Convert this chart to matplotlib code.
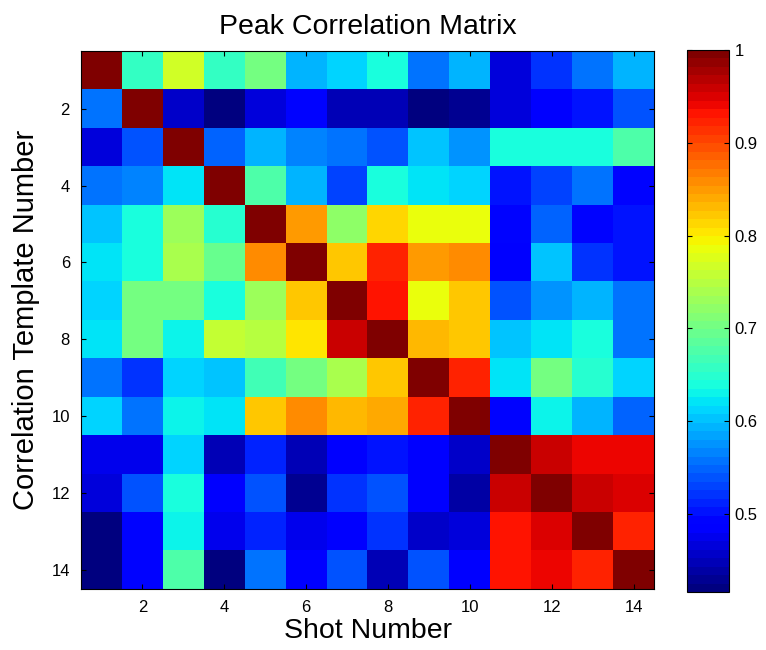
import numpy as np
import matplotlib
matplotlib.use("Agg")
import matplotlib.pyplot as plt

plt.rcParams['font.family'] = ['Liberation Sans', 'DejaVu Sans']

# peak correlation values, rows = correlation template, cols = shot number
row01 = [1.000, 0.660, 0.770, 0.660, 0.700, 0.590, 0.610, 0.640, 0.560, 0.590, 0.470, 0.520, 0.557, 0.590]
row02 = [0.560, 1.000, 0.460, 0.416, 0.470, 0.490, 0.450, 0.450, 0.418, 0.430, 0.470, 0.485, 0.500, 0.540]
row03 = [0.470, 0.540, 1.000, 0.545, 0.590, 0.570, 0.557, 0.540, 0.600, 0.575, 0.640, 0.640, 0.640, 0.680]
row04 = [0.560, 0.570, 0.620, 1.000, 0.675, 0.590, 0.530, 0.635, 0.620, 0.610, 0.500, 0.530, 0.557, 0.495]
row05 = [0.600, 0.635, 0.730, 0.645, 1.000, 0.850, 0.720, 0.815, 0.790, 0.790, 0.490, 0.545, 0.495, 0.500]
row06 = [0.625, 0.640, 0.740, 0.690, 0.860, 1.000, 0.820, 0.920, 0.850, 0.860, 0.487, 0.600, 0.525, 0.500]
row07 = [0.610, 0.700, 0.705, 0.637, 0.730, 0.820, 1.000, 0.935, 0.790, 0.820, 0.540, 0.575, 0.590, 0.560]
row08 = [0.625, 0.700, 0.632, 0.760, 0.745, 0.805, 0.960, 1.000, 0.835, 0.820, 0.600, 0.625, 0.640, 0.560]
row09 = [0.560, 0.525, 0.610, 0.600, 0.665, 0.705, 0.740, 0.820, 1.000, 0.920, 0.625, 0.700, 0.650, 0.610]
row10 = [0.610, 0.557, 0.632, 0.625, 0.820, 0.860, 0.830, 0.840, 0.925, 1.000, 0.495, 0.632, 0.590, 0.545]
row11 = [0.475, 0.475, 0.610, 0.450, 0.510, 0.450, 0.482, 0.505, 0.485, 0.460, 1.000, 0.958, 0.942, 0.942]
row12 = [0.470, 0.540, 0.640, 0.482, 0.540, 0.432, 0.525, 0.540, 0.482, 0.440, 0.958, 1.000, 0.958, 0.950]
row13 = [0.418, 0.495, 0.632, 0.475, 0.515, 0.475, 0.480, 0.520, 0.460, 0.470, 0.935, 0.950, 1.000, 0.922]
row14 = [0.425, 0.495, 0.675, 0.420, 0.557, 0.482, 0.540, 0.445, 0.540, 0.485, 0.935, 0.945, 0.925, 1.000]

corr = np.array([row01, row02, row03, row04, row05, row06, row07,
                 row08, row09, row10, row11, row12, row13, row14])
n = corr.shape[0]
tick_vals = [2, 4, 6, 8, 10, 12, 14]
cbar_ticks = [0.5, 0.6, 0.7, 0.8, 0.9, 1.0]
cbar_labels = ['0.5', '0.6', '0.7', '0.8', '0.9', '1']

fig = plt.figure(figsize=(7.66, 6.5), dpi=100)
ax = fig.add_axes([81 / 766, 1 - 589 / 650, 573 / 766, 538 / 650])

cmap = plt.get_cmap('jet', 64)
im = ax.imshow(corr, cmap=cmap, vmin=corr.min(), vmax=corr.max(),
               extent=[0.5, n + 0.5, n + 0.5, 0.5], aspect='auto',
               interpolation='nearest')

ax.set_xticks(tick_vals)
ax.set_yticks(tick_vals)
ax.tick_params(direction='in', top=True, right=True, length=3.5, width=0.8,
               labelsize=12, pad=8)
ax.set_xlabel('Shot Number', fontsize=20.5, labelpad=2)
ax.set_ylabel('Correlation Template Number', fontsize=21, labelpad=8)
ax.set_title('Peak Correlation Matrix', fontsize=20.5, pad=12)

cax = fig.add_axes([687 / 766, 1 - 592 / 650, 42 / 766, 542 / 650])
cb = fig.colorbar(im, cax=cax)
cb.set_ticks(cbar_ticks)
cb.set_ticklabels(cbar_labels)
cax.tick_params(direction='in', left=True, right=True, length=3.5, width=0.8,
                labelsize=12, pad=4)
cb.outline.set_linewidth(0.8)

fig.savefig('out.png', dpi=100)
